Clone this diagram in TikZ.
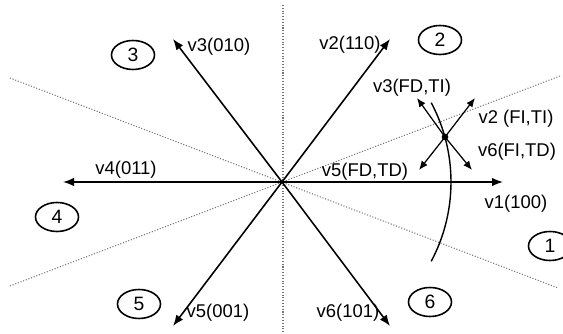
\documentclass[tikz,border=0pt]{standalone}
\usepackage{fontspec}
\setmainfont{Liberation Sans}
\usetikzlibrary{shapes.geometric, arrows.meta}

\begin{document}
\begin{tikzpicture}[x=0.2mm, y=0.2mm,
    vec/.style={-{Latex[length=2.2mm, width=1.7mm]}, line width=0.9pt},
    small/.style={-{Latex[length=1.8mm, width=1.5mm]}, line width=0.7pt},
    border/.style={densely dotted, black!55, line width=0.6pt},
    sector/.style={draw, ellipse, minimum width=8.6mm, minimum height=5.8mm, inner sep=0pt, line width=0.9pt, font=\fontsize{11}{13}\selectfont},
    lbl/.style={inner sep=0pt, font=\fontsize{10.5}{12}\selectfont}]
      \useasboundingbox (0,0) rectangle (563,334);

      % Sector borders
      \coordinate (O) at (282,152);
      \coordinate (bTop) at (283,329);
      \coordinate (bBot) at (283,0);
      \coordinate (bUL) at (10,256);
      \coordinate (bLR) at (558,46);
      \coordinate (bLL) at (10,48);
      \coordinate (bUR) at (560,258);
      \draw[border] (bTop) -- (bBot);
      \draw[border] (bUL) -- (bLR);
      \draw[border] (bLL) -- (bUR);

      % Voltage vectors
      \coordinate (t1) at (503,152);
      \coordinate (t2) at (390,295);
      \coordinate (t3) at (173,295);
      \coordinate (t4) at (63,152);
      \coordinate (t5) at (173,8);
      \coordinate (t6) at (390,8);
      \foreach \i in {1,...,6}
        \draw[vec] (O) -- (t\i);

      % Vector labels
      \node[lbl] (l1) at (516,130) {v1(100)};
      \node[lbl] (l2) at (350,289) {v2(110)};
      \node[lbl] (l3) at (219,287) {v3(010)};
      \node[lbl] (l4) at (126,164) {v4(011)};
      \node[lbl] (l5) at (218,21) {v5(001)};
      \node[lbl] (l6) at (348,21) {v6(101)};

      % Sectors
      \node[sector] (s1) at (550,88) {1};
      \node[sector] (s2) at (440,294) {2};
      \node[sector] (s3) at (133,279) {3};
      \node[sector] (s4) at (57,117) {4};
      \node[sector] (s5) at (139,30) {5};
      \node[sector] (s6) at (430,32) {6};

      % Flux trajectory
      \draw[line width=0.8pt] (O) ++(28:33.8mm) arc[start angle=28, end angle=-28, radius=33.8mm];
      \fill (445,197) circle (1.9pt) coordinate (F);

      % Vectors at the flux point
      \coordinate (fUL) at (417,236);
      \coordinate (fUR) at (475,236);
      \coordinate (fLL) at (419,164);
      \coordinate (fLR) at (472,164);
      \foreach \t in {fUL,fUR,fLL,fLR}
        \draw[small] (F) -- (\t);
      \node[lbl] (fd3) at (412,246) {v3(FD,TI)};
      \node[lbl] (fi2) at (516,215) {v2 (FI,TI)};
      \node[lbl] (fi6) at (517,182) {v6(FI,TD)};
      \node[lbl] (fd5) at (365,162) {v5(FD,TD)};
\end{tikzpicture}
\end{document}
